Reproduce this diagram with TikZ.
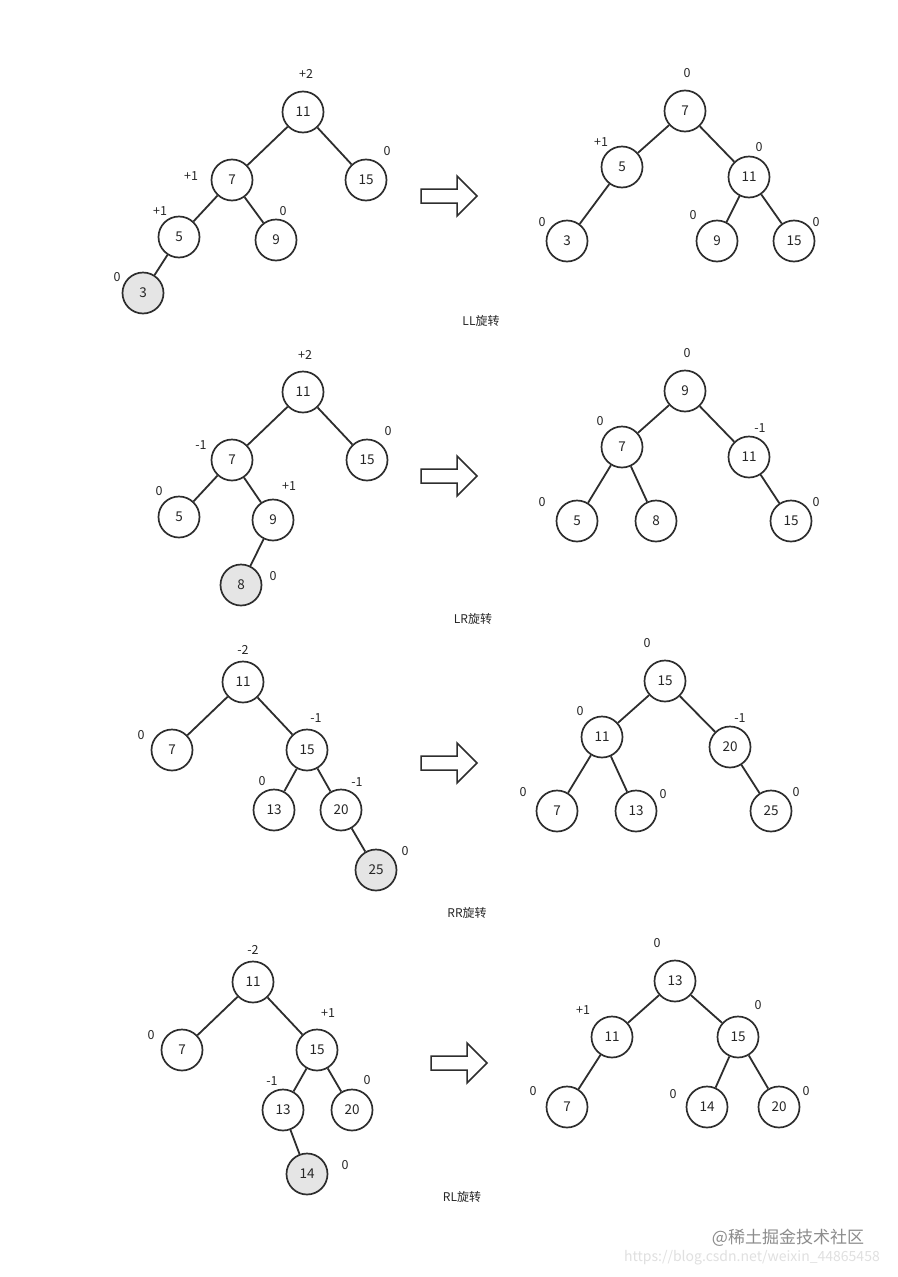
\documentclass[tikz,border=0pt]{standalone}
\usepackage{fontspec}
\setmainfont{Noto Sans CJK SC}
\tikzset{
  tn/.style={circle, draw=black!82, line width=1.7pt, minimum size=41pt, inner sep=0pt, fill=white, font=\fontsize{13.5}{13.5}\selectfont, text=black!85},
  gn/.style={tn, fill=black!10},
  bf/.style={font=\fontsize{12.5}{12.5}\selectfont, text=black!85, inner sep=0pt},
  ed/.style={line width=1.8pt, draw=black!82},
  capt/.style={font=\fontsize{12}{12}\selectfont, text=black!85, inner sep=0pt},
  bigarrow/.style={draw=black!82, line width=1.5pt, fill=white, line join=miter},
}
\newcommand{\bigarr}[1]{\draw[bigarrow, shift={(#1)}] (0,-7) -- (36,-7) -- (36,-20) -- (56,0) -- (36,20) -- (36,7) -- (0,7) -- cycle;}
\begin{document}
\begin{tikzpicture}[x=1pt,y=-1pt]
\fill[white] (0,0) rectangle (897,1277);
\useasboundingbox (0,0) rectangle (897,1277);

% ===== LL left =====
\node[tn] (a11) at (303,112) {11};
\node[tn] (a7) at (232,180) {7};
\node[tn] (a15) at (366,180) {15};
\node[tn] (a5) at (179,237) {5};
\node[tn] (a9) at (276,240) {9};
\node[gn] (a3) at (143,293) {3};
\draw[ed] (a11) -- (a7); \draw[ed] (a11) -- (a15);
\draw[ed] (a7) -- (a5); \draw[ed] (a7) -- (a9);
\draw[ed] (a5) -- (a3);
\node[bf] (la11) at (306,74) {+2};
\node[bf] (la7) at (191,176) {+1};
\node[bf] (la15) at (387,151) {0};
\node[bf] (la5) at (160,211) {+1};
\node[bf] (la9) at (283,211) {0};
\node[bf] (la3) at (117,277) {0};
% ===== LL right =====
\node[tn] (b7) at (685,111) {7};
\node[tn] (b5) at (622,167) {5};
\node[tn] (b11) at (749,177) {11};
\node[tn] (b3) at (567,241) {3};
\node[tn] (b9) at (717,241) {9};
\node[tn] (b15) at (794,241) {15};
\draw[ed] (b7) -- (b5); \draw[ed] (b7) -- (b11);
\draw[ed] (b5) -- (b3); \draw[ed] (b11) -- (b9); \draw[ed] (b11) -- (b15);
\node[bf] (lb7) at (687,73) {0};
\node[bf] (lb5) at (601,142) {+1};
\node[bf] (lb11) at (759,147) {0};
\node[bf] (lb3) at (542,222) {0};
\node[bf] (lb9) at (693,215) {0};
\node[bf] (lb15) at (816,222) {0};
\bigarr{421,196}
\node[capt] (capLL) at (481,321) {LL旋转};

% ===== LR left =====
\node[tn] (c11) at (303,392) {11};
\node[tn] (c7) at (232,460) {7};
\node[tn] (c15) at (367,460) {15};
\node[tn] (c5) at (179,517) {5};
\node[tn] (c9) at (273,520) {9};
\node[gn] (c8) at (241,585) {8};
\draw[ed] (c11) -- (c7); \draw[ed] (c11) -- (c15);
\draw[ed] (c7) -- (c5); \draw[ed] (c7) -- (c9);
\draw[ed] (c9) -- (c8);
\node[bf] (lc11) at (305,355) {+2};
\node[bf] (lc7) at (201,445) {-1};
\node[bf] (lc15) at (388,431) {0};
\node[bf] (lc5) at (159,491) {0};
\node[bf] (lc9) at (289,486) {+1};
\node[bf] (lc8) at (273,576) {0};
% ===== LR right =====
\node[tn] (d9) at (685,391) {9};
\node[tn] (d7) at (622,447) {7};
\node[tn] (d11) at (749,457) {11};
\node[tn] (d5) at (577,521) {5};
\node[tn] (d8) at (656,521) {8};
\node[tn] (d15) at (791,521) {15};
\draw[ed] (d9) -- (d7); \draw[ed] (d9) -- (d11);
\draw[ed] (d7) -- (d5); \draw[ed] (d7) -- (d8); \draw[ed] (d11) -- (d15);
\node[bf] (ld9) at (687,353) {0};
\node[bf] (ld7) at (600,421) {0};
\node[bf] (ld11) at (760,428) {-1};
\node[bf] (ld5) at (542,502) {0};
\node[bf] (ld15) at (816,502) {0};
\bigarr{421,476}
\node[capt] (capLR) at (473,619) {LR旋转};

% ===== RR left =====
\node[tn] (e11) at (243,682) {11};
\node[tn] (e7) at (172,750) {7};
\node[tn] (e15) at (307,750) {15};
\node[tn] (e13) at (274,810) {13};
\node[tn] (e20) at (341,810) {20};
\node[gn] (e25) at (376,870) {25};
\draw[ed] (e11) -- (e7); \draw[ed] (e11) -- (e15);
\draw[ed] (e15) -- (e13); \draw[ed] (e15) -- (e20);
\draw[ed] (e20) -- (e25);
\node[bf] (le11) at (243,650) {-2};
\node[bf] (le7) at (141,735) {0};
\node[bf] (le15) at (316,718) {-1};
\node[bf] (le13) at (262,781) {0};
\node[bf] (le20) at (357,782) {-1};
\node[bf] (le25) at (405,851) {0};
% ===== RR right =====
\node[tn] (f15) at (665,681) {15};
\node[tn] (f11) at (602,737) {11};
\node[tn] (f20) at (730,747) {20};
\node[tn] (f7) at (557,811) {7};
\node[tn] (f13) at (636,811) {13};
\node[tn] (f25) at (771,811) {25};
\draw[ed] (f15) -- (f11); \draw[ed] (f15) -- (f20);
\draw[ed] (f11) -- (f7); \draw[ed] (f11) -- (f13); \draw[ed] (f20) -- (f25);
\node[bf] (lf15) at (647,643) {0};
\node[bf] (lf11) at (580,711) {0};
\node[bf] (lf20) at (740,718) {-1};
\node[bf] (lf7) at (523,792) {0};
\node[bf] (lf13) at (663,794) {0};
\node[bf] (lf25) at (796,792) {0};
\bigarr{421,763}
\node[capt] (capRR) at (467,913) {RR旋转};

% ===== RL left =====
\node[tn] (g11) at (253,982) {11};
\node[tn] (g7) at (182,1050) {7};
\node[tn] (g15) at (317,1050) {15};
\node[tn] (g13) at (283,1110) {13};
\node[tn] (g20) at (352,1110) {20};
\node[gn] (g14) at (307,1174) {14};
\draw[ed] (g11) -- (g7); \draw[ed] (g11) -- (g15);
\draw[ed] (g15) -- (g13); \draw[ed] (g15) -- (g20);
\draw[ed] (g13) -- (g14);
\node[bf] (lg11) at (253,950) {-2};
\node[bf] (lg7) at (151,1035) {0};
\node[bf] (lg15) at (328,1013) {+1};
\node[bf] (lg13) at (272,1081) {-1};
\node[bf] (lg20) at (367,1080) {0};
\node[bf] (lg14) at (345,1165) {0};
% ===== RL right =====
\node[tn] (h13) at (675,981) {13};
\node[tn] (h11) at (612,1037) {11};
\node[tn] (h15) at (738,1037) {15};
\node[tn] (h7) at (567,1107) {7};
\node[tn] (h14) at (707,1107) {14};
\node[tn] (h20) at (779,1107) {20};
\draw[ed] (h13) -- (h11); \draw[ed] (h13) -- (h15);
\draw[ed] (h11) -- (h7); \draw[ed] (h15) -- (h14); \draw[ed] (h15) -- (h20);
\node[bf] (lh13) at (657,943) {0};
\node[bf] (lh11) at (583,1010) {+1};
\node[bf] (lh15) at (758,1005) {0};
\node[bf] (lh7) at (533,1091) {0};
\node[bf] (lh14) at (673,1094) {0};
\node[bf] (lh20) at (806,1091) {0};
\bigarr{431,1063}
\node[capt] (capRL) at (462,1197) {RL旋转};

% ===== watermark =====
\node[font=\fontsize{17}{17}\selectfont, text=black!45, inner sep=0pt] (wm1) at (788,1238) {@稀土掘金技术社区};
\node[font=\fontsize{14}{14}\selectfont, text=black!12, inner sep=0pt] (wm2) at (752,1258) {https://blog.csdn.net/weixin\_44865458};
\end{tikzpicture}
\end{document}
